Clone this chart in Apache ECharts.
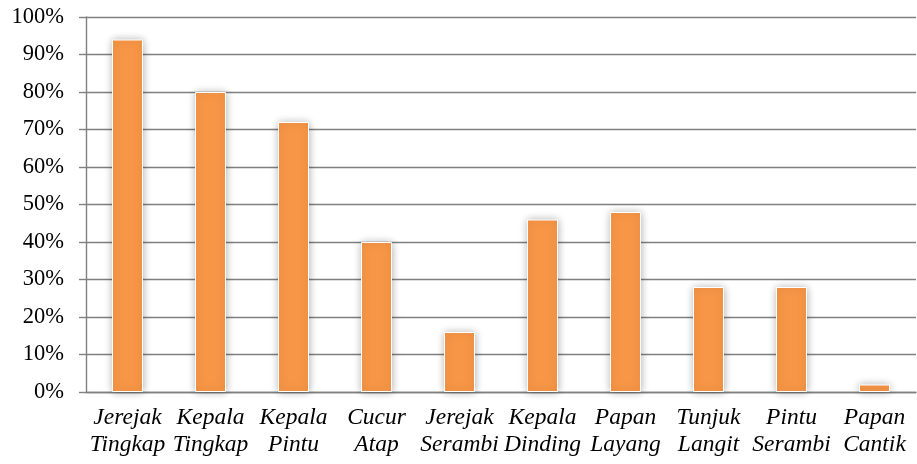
<!DOCTYPE html>
<html>
<head>
<meta charset="utf-8">
<script src="https://cdn.jsdelivr.net/npm/echarts@6/dist/echarts.min.js"></script>
<style>
  html, body { margin: 0; padding: 0; background: #fff; }
  #main { width: 917px; height: 464px; }
</style>
</head>
<body>
<div id="main"></div>
<script>
// kategori ornamen
var categories = [
  "Jerejak\nTingkap", "Kepala\nTingkap", "Kepala\nPintu", "Cucur\nAtap", "Jerejak\nSerambi",
  "Kepala\nDinding", "Papan\nLayang", "Tunjuk\nLangit", "Pintu\nSerambi", "Papan\nCantik"
];
// persentase
var values = [94, 80, 72, 40, 16, 46, 48, 28, 28, 2];

var chart = echarts.init(document.getElementById("main"));

var option = {
  animation: false,
  grid: {
    left: 86,
    right: 1,
    top: 17,
    bottom: 72
  },
  xAxis: {
    type: "category",
    data: categories,
    axisLine: { lineStyle: { color: "#808080", width: 1.4 } },
    axisTick: { show: false },
    axisLabel: {
      interval: 0,
      margin: 12,
      color: "#000",
      fontFamily: "Liberation Serif",
      fontStyle: "italic",
      fontSize: 23.5,
      lineHeight: 27
    }
  },
  yAxis: {
    type: "value",
    min: 0,
    max: 100,
    interval: 10,
    axisLine: { show: true, lineStyle: { color: "#808080", width: 1.4 } },
    axisTick: { show: true, length: 7, lineStyle: { color: "#808080", width: 1.4 } },
    splitLine: { lineStyle: { color: "#808080", width: 1.4 } },
    axisLabel: {
      margin: 22,
      color: "#000",
      fontFamily: "Liberation Serif",
      fontSize: 22.5,
      formatter: "{value}%"
    }
  },
  series: [
    {
      type: "bar",
      data: values,
      barWidth: 31,
      itemStyle: {
        color: "#F79646",
        borderColor: "#fff",
        borderWidth: 1,
        shadowBlur: 8,
        shadowColor: "rgba(0,0,0,0.3)"
      }
    }
  ]
};
chart.setOption(option);
</script>
</body>
</html>
